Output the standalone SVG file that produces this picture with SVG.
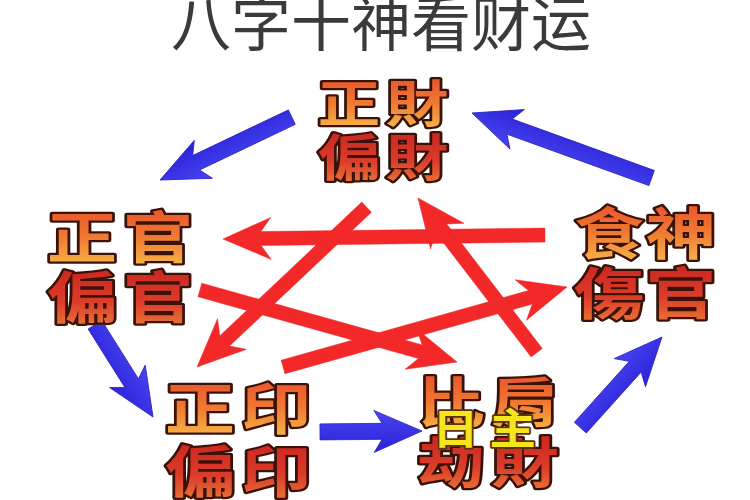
<svg xmlns="http://www.w3.org/2000/svg" width="750" height="500" viewBox="0 0 750 500">
  <defs>
    <linearGradient id="g1" x1="0" y1="0" x2="0" y2="1">
      <stop offset="0" stop-color="#e6402a"/>
      <stop offset="0.55" stop-color="#f07a32"/>
      <stop offset="1" stop-color="#f8c64c"/>
    </linearGradient>
    <linearGradient id="g2" x1="0" y1="0" x2="0" y2="1">
      <stop offset="0" stop-color="#c41c1c"/>
      <stop offset="0.6" stop-color="#dc3c2a"/>
      <stop offset="1" stop-color="#ee8438"/>
    </linearGradient>
    <linearGradient id="gb" x1="0" y1="0" x2="0" y2="1">
      <stop offset="0" stop-color="#4a44f0"/>
      <stop offset="1" stop-color="#2a22d8"/>
    </linearGradient>
  </defs>
  <style>
    .title { font-family: "Noto Sans CJK SC", "Noto Sans CJK TC", sans-serif; font-size: 60px; font-weight: normal; fill: #3a3a3a; text-anchor: middle; }
    .lbl { font-family: "Noto Sans CJK TC", "Noto Sans CJK SC", sans-serif; font-weight: bold; text-anchor: middle; stroke: #3a1208; stroke-width: 4.5; stroke-linejoin: round; paint-order: stroke; }
    .r1 { fill: url(#g1); }
    .r2 { fill: url(#g2); }
    .ri { font-family: "Noto Sans CJK TC", "Noto Sans CJK SC", sans-serif; font-weight: bold; text-anchor: middle; fill: #f6e41c; stroke: #5a3410; stroke-width: 3.5; stroke-linejoin: round; paint-order: stroke; }
    .red { fill: #f32828; stroke: #f32828; stroke-width: 0.5; stroke-linejoin: round; }
    .blue { fill: url(#gb); stroke: #2a22c0; stroke-width: 0.8; stroke-linejoin: round; }
  </style>
  <rect width="750" height="500" fill="#ffffff"/>

  <text class="title" x="381" y="46">八字十神看财运</text>

  <g id="connectors">
    <polygon class="red" transform="translate(223,239) rotate(179.3)" points="0,0 -48,-21 -38,-7 -322,-7 -322,7 -38,7 -48,21"/>
    <polygon class="red" transform="translate(197,367) rotate(136.7)" points="0,0 -48,-21 -38,-7 -233,-7 -233,7 -38,7 -48,21"/>
    <polygon class="red" transform="translate(457,362) rotate(15.65)" points="0,0 -48,-21 -38,-7 -267,-7 -267,7 -38,7 -48,21"/>
    <polygon class="red" transform="translate(567,287) rotate(-15.73)" points="0,0 -48,-21 -38,-7 -295,-7 -295,7 -38,7 -48,21"/>
    <polygon class="red" transform="translate(418,198) rotate(-127.5)" points="0,0 -48,-21 -38,-7 -195,-7 -195,7 -38,7 -48,21"/>
    <polygon class="blue" transform="translate(160,180) rotate(154.5)" points="0,0 -48,-21 -40,-8 -146,-8 -146,8 -40,8 -48,21"/>
    <polygon class="blue" transform="translate(472,113) rotate(-160.1)" points="0,0 -48,-21 -40,-8 -191,-8 -191,8 -40,8 -48,21"/>
    <polygon class="blue" transform="translate(153,417) rotate(57.8)" points="0,0 -48,-21 -40,-8 -109,-8 -109,8 -40,8 -48,21"/>
    <polygon class="blue" transform="translate(422,431) rotate(-0.5)" points="0,0 -48,-21 -40,-8 -102,-8 -102,8 -40,8 -48,21"/>
    <polygon class="blue" transform="translate(662,337) rotate(-48)" points="0,0 -48,-21 -40,-8 -122,-8 -122,8 -40,8 -48,21"/>
  </g>

  <g id="node-zhengcai" transform="translate(383,0) scale(1.25,1)">
    <text class="lbl r1" font-size="50" x="-27.2 27.2" y="122">正財</text>
    <text class="lbl r2" font-size="50" x="-27.2 27.2" y="176">偏財</text>
  </g>

  <g id="node-zhengguan" transform="translate(120,0) scale(1.25,1)">
    <text class="lbl r1" font-size="56" x="-30.4 30.4" y="258">正官</text>
    <text class="lbl r2" font-size="56" x="-30.4 30.4" y="318">偏官</text>
  </g>

  <g id="node-shishen" transform="translate(645,0) scale(1.25,1)">
    <text class="lbl r1" font-size="56" x="-28.8 28.8" y="254">食神</text>
    <text class="lbl r2" font-size="56" x="-28.8 28.8" y="314">傷官</text>
  </g>

  <g id="node-zhengyin" transform="translate(238,0) scale(1.25,1)">
    <text class="lbl r1" font-size="56" x="-30.4 30.4" y="429">正印</text>
    <text class="lbl r2" font-size="56" x="-30.4 30.4" y="492">偏印</text>
  </g>

  <g id="node-bijian">
    <g transform="translate(488,0) scale(1.25,1)">
      <text class="lbl r1" font-size="54" x="-29.6 29.6" y="423">比肩</text>
      <text class="lbl r2" font-size="54" x="-29.6 29.6" y="483">劫財</text>
    </g>
    <g transform="translate(484,0) scale(1.1,1)">
      <text class="ri" font-size="42" x="-26 26" y="444">日主</text>
    </g>
  </g>
</svg>
